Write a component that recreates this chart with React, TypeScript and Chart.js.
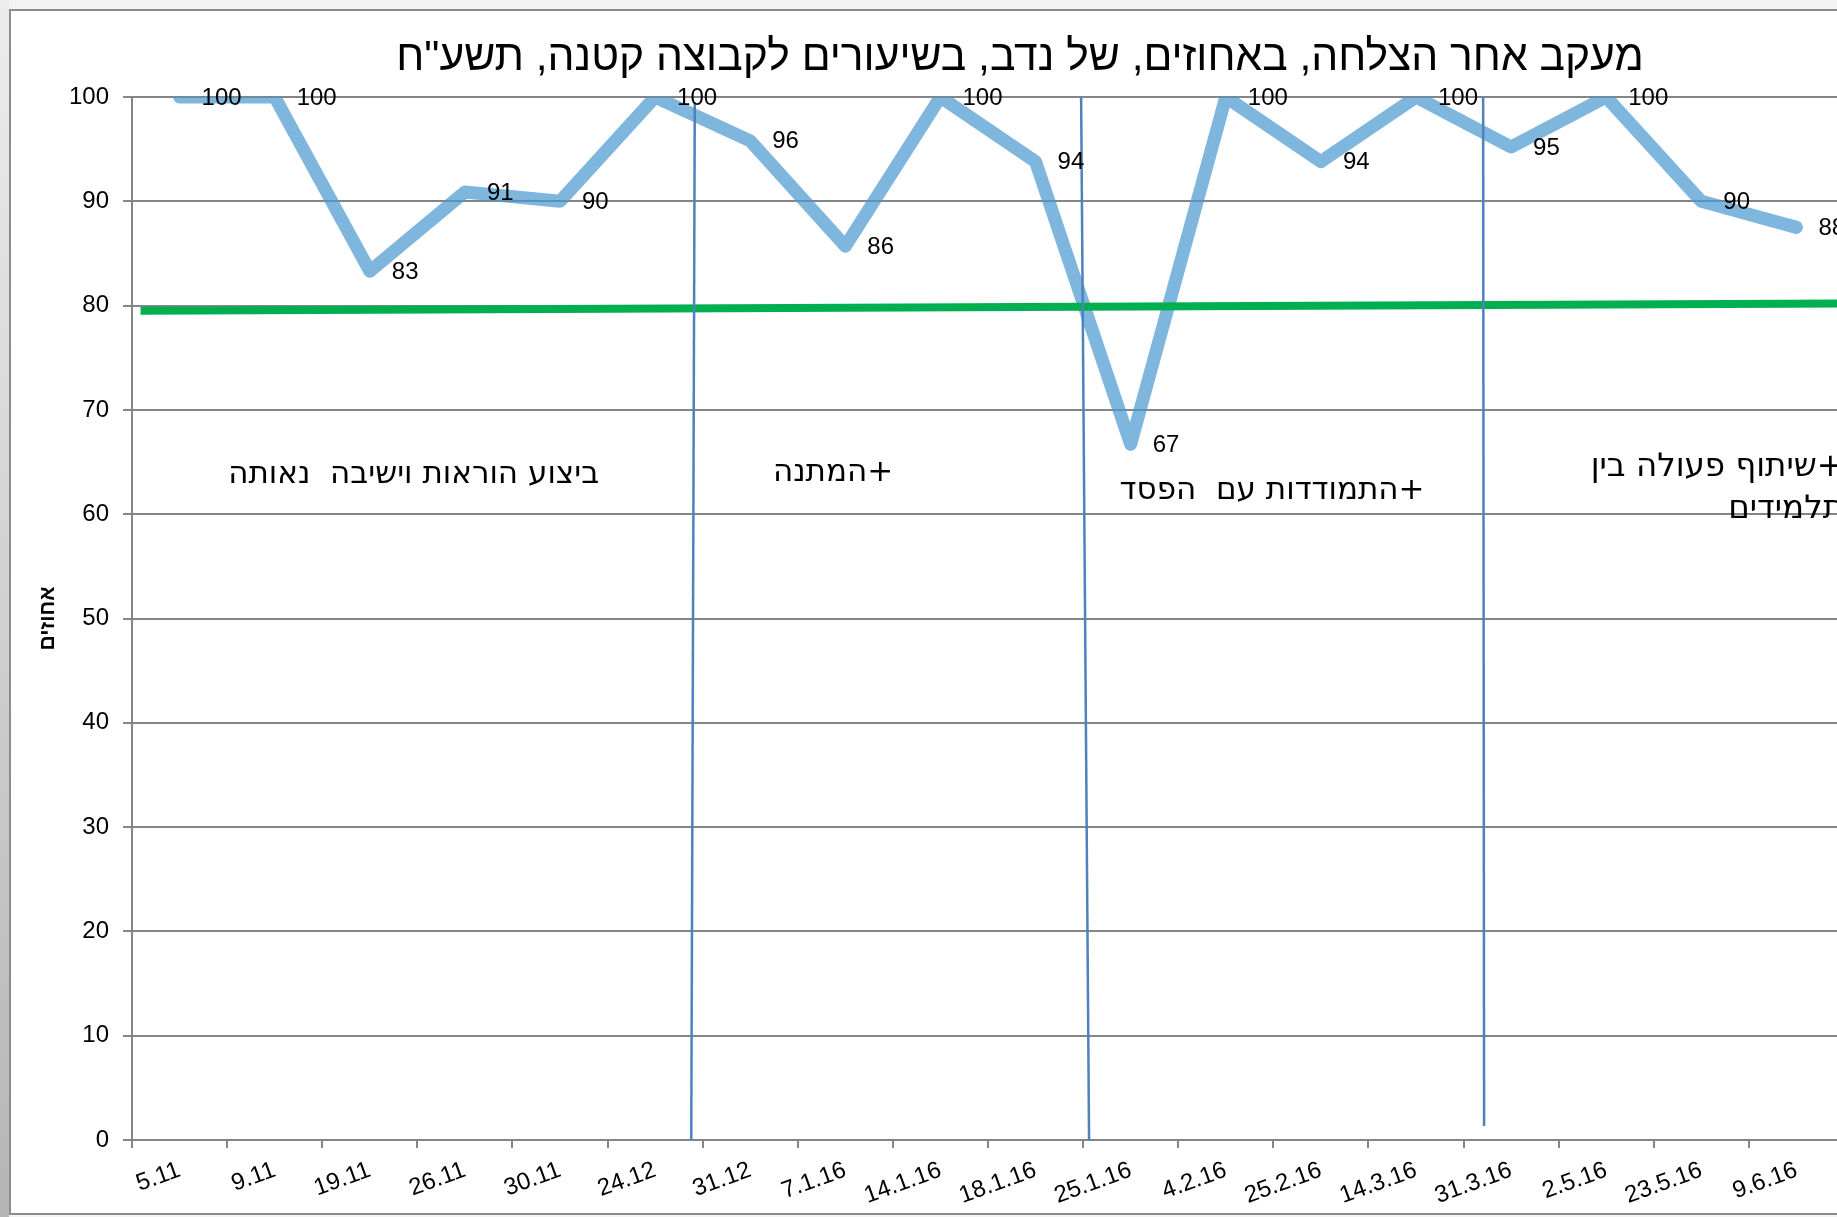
import { useEffect, useRef } from 'react';
import { Chart, registerables } from 'chart.js';

Chart.register(...registerables);

const chartTitle = 'מעקב אחר הצלחה, באחוזים, של נדב, בשיעורים לקבוצה קטנה, תשע"ח';
const yAxisTitle = 'אחוזים';

const lessonDates = ['5.11', '9.11', '19.11', '26.11', '30.11', '24.12', '31.12', '7.1.16', '14.1.16', '18.1.16', '25.1.16', '4.2.16', '25.2.16', '14.3.16', '31.3.16', '2.5.16', '23.5.16', '9.6.16'];
const successPct = [100, 100, 83.3, 90.9, 90, 100, 95.8, 85.7, 100, 93.8, 66.7, 100, 93.8, 100, 95.2, 100, 90, 87.5];

const yMin = 0;
const yMax = 100;
const yStep = 10;

// green reference line (x in category-index units)
const targetLine = [
  { x: -0.41, y: 79.5 },
  { x: 17.5, y: 80.2 },
];

// thin blue phase divider lines (x in category-index units)
const divider1 = [{ x: 5.417, y: 99.5 }, { x: 5.38, y: -0.4 }];
const divider2 = [{ x: 9.479, y: 100 }, { x: 9.563, y: -0.3 }];
const divider3 = [{ x: 13.706, y: 100 }, { x: 13.716, y: 1.34 }];

const phaseTexts = [
  ['ביצוע הוראות וישיבה  נאותה'],
  ['+המתנה'],
  ['+התמודדות עם  הפסד'],
  ['+שיתוף פעולה בין', 'תלמידים'],
];
const phaseX = [2.461, 6.871, 11.487, 17.5];
const phaseY = [63.8, 64.0, 62.2, 64.5];
const phaseAlign: CanvasTextAlign[] = ['center', 'center', 'center', 'right'];
const phaseFontPx = [31, 31, 31, 32.5];

const overlayPlugin = {
  id: 'overlay',
  afterDatasetsDraw(chart: any) {
    const ctx: CanvasRenderingContext2D = chart.ctx;
    const meta = chart.getDatasetMeta(0);
    ctx.save();
    // data labels
    ctx.font = '24px "Liberation Sans", Arial, sans-serif';
    ctx.fillStyle = '#000';
    ctx.textAlign = 'left';
    ctx.textBaseline = 'middle';
    meta.data.forEach((pt: any, i: number) => {
      ctx.fillText(String(Math.round(successPct[i])), pt.x + 22, pt.y + 1);
    });
    // phase labels
    const xs = chart.scales.xl;
    const ys = chart.scales.y;
    ctx.direction = 'rtl';
    phaseTexts.forEach((lines, i) => {
      const px = xs.getPixelForValue(phaseX[i]);
      const py = ys.getPixelForValue(phaseY[i]);
      ctx.font = `${phaseFontPx[i]}px "DejaVu Sans", sans-serif`;
      ctx.textAlign = phaseAlign[i];
      lines.forEach((line, j) => {
        ctx.fillText(line, px, py + j * 42);
      });
    });
    // chart title
    ctx.font = '42.6px "Liberation Sans", Arial, sans-serif';
    ctx.textAlign = 'center';
    ctx.fillText(chartTitle, 1009, 47);
    ctx.restore();
  },
};

export default function App() {
  const ref = useRef<HTMLCanvasElement | null>(null);

  useEffect(() => {
    if (!ref.current) return;
    const grid = '#858585';
    const chart = new Chart(ref.current, {
      type: 'line',
      data: {
        labels: lessonDates,
        datasets: [
          {
            data: successPct,
            xAxisID: 'x',
            yAxisID: 'y',
            borderColor: 'rgba(72,151,208,0.7)',
            borderWidth: 13,
            borderCapStyle: 'round',
            borderJoinStyle: 'round',
            pointRadius: 0,
            tension: 0,
            order: 2,
          },
          {
            data: targetLine as any,
            xAxisID: 'xl',
            yAxisID: 'y',
            borderColor: '#00B050',
            borderWidth: 8,
            pointRadius: 0,
            order: 1,
          },
          ...[divider1, divider2, divider3].map((d) => ({
            data: d as any,
            xAxisID: 'xl',
            yAxisID: 'y',
            borderColor: '#4F81BD',
            borderWidth: 2.5,
            pointRadius: 0,
            order: 0,
          })),
        ],
      },
      options: {
        animation: false,
        responsive: false,
        devicePixelRatio: 1,
        layout: { padding: { left: 0, right: 17, top: 86, bottom: 0 } },
        plugins: {
          legend: { display: false },
          tooltip: { enabled: false },
          title: { display: false },
        },
        scales: {
          x: {
            type: 'category',
            offset: true,
            grid: {
              drawOnChartArea: false,
              offset: true,
              tickLength: 8,
              color: grid,
              lineWidth: 2,
            },
            border: { color: grid, width: 2 },
            ticks: {
              autoSkip: false,
              minRotation: 20,
              maxRotation: 20,
              padding: 8,
              color: '#000',
              font: { family: '"Liberation Sans", Arial, sans-serif', size: 24 },
            },
            afterFit(scale: any) {
              scale.height = 73;
            },
          },
          xl: {
            type: 'linear',
            axis: 'x',
            position: 'bottom',
            display: false,
            min: -0.5,
            max: lessonDates.length - 0.5,
          },
          y: {
            min: yMin,
            max: yMax,
            ticks: {
              stepSize: yStep,
              padding: 14,
              color: '#000',
              font: { family: '"Liberation Sans", Arial, sans-serif', size: 24 },
            },
            grid: { color: grid, lineWidth: 2, tickLength: 9 },
            border: { color: grid, width: 2 },
            title: {
              display: true,
              text: yAxisTitle,
              color: '#000',
              font: { family: '"Liberation Sans", Arial, sans-serif', size: 21, weight: 'bold' },
              padding: { top: 25, bottom: 0 },
            },
            afterFit(scale: any) {
              scale.width = 121;
            },
          },
        },
      } as any,
      plugins: [overlayPlugin],
    });
    return () => chart.destroy();
  }, []);

  return (
    <div style={{ position: 'fixed', left: 0, top: 0, width: 1837, height: 1217, overflow: 'hidden', background: '#f3f3f3' }}>
      <div style={{ position: 'absolute', left: 0, top: 0, width: 9, height: 1217, background: 'linear-gradient(#ececec, #b5b5b5)' }} />
      <div style={{ position: 'absolute', left: 9, top: 9, width: 1900, height: 1202, border: '2px solid #8c8c8c', background: '#fff' }} />
      <canvas ref={ref} width={1850} height={1202} style={{ position: 'absolute', left: 11, top: 11 }} />
    </div>
  );
}
